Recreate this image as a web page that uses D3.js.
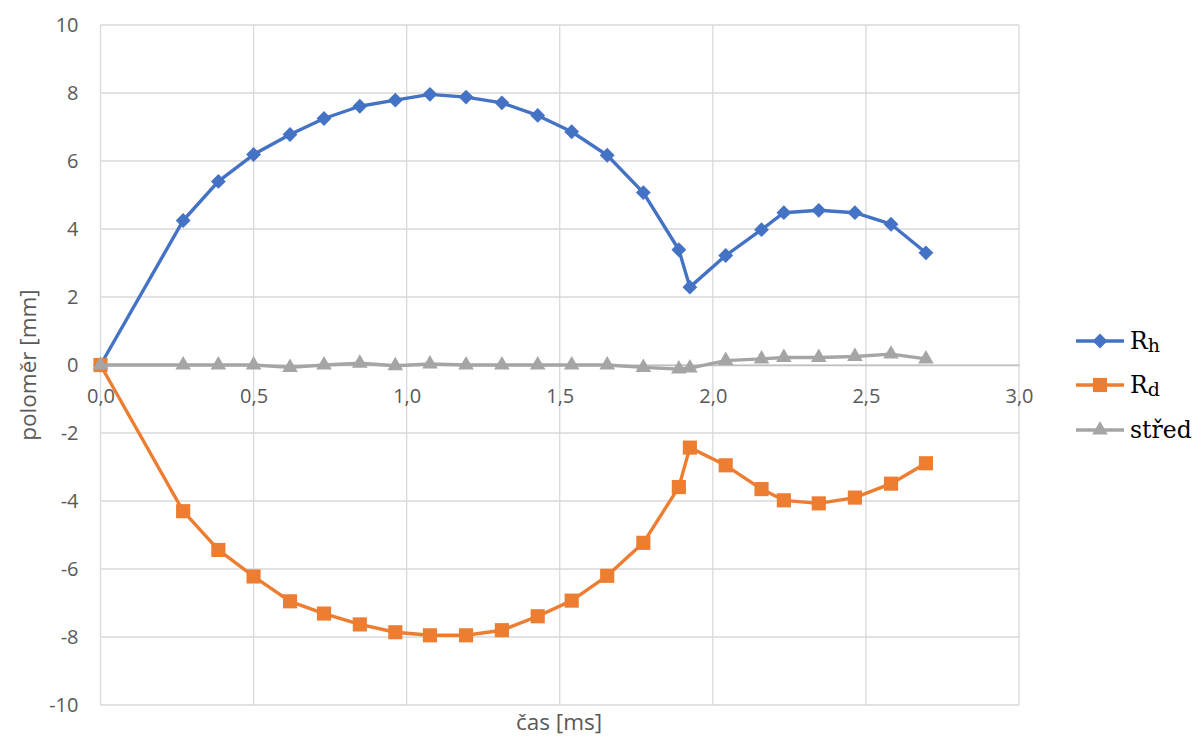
<!DOCTYPE html>
<html><head><meta charset="utf-8">
<script src="https://cdn.jsdelivr.net/npm/d3@7"></script>
<style>body{margin:0;background:#fff}svg{display:block}</style>
</head><body>
<svg id="c" width="1200" height="738"></svg>
<script>
const time = [0, 0.27, 0.385, 0.5, 0.619, 0.73, 0.847, 0.963, 1.076, 1.194, 1.311, 1.428, 1.539, 1.655, 1.773, 1.889, 1.925, 2.042, 2.159, 2.232, 2.346, 2.464, 2.582, 2.696];
const Rh = [0, 4.25, 5.40, 6.19, 6.78, 7.25, 7.61, 7.79, 7.96, 7.88, 7.71, 7.34, 6.86, 6.17, 5.07, 3.39, 2.29, 3.22, 3.98, 4.48, 4.55, 4.48, 4.14, 3.30];
const Rd = [0, -4.30, -5.44, -6.22, -6.95, -7.31, -7.63, -7.86, -7.95, -7.95, -7.80, -7.39, -6.93, -6.20, -5.23, -3.59, -2.43, -2.95, -3.65, -3.98, -4.07, -3.90, -3.49, -2.89];
const stred = [0, 0, 0, 0, -0.07, 0, 0.05, -0.02, 0.03, 0, 0, 0, 0, 0, -0.07, -0.12, -0.09, 0.13, 0.18, 0.22, 0.22, 0.25, 0.32, 0.18];
const xTicks = [0, 0.5, 1.0, 1.5, 2.0, 2.5, 3.0];
const yTicks = [-10, -8, -6, -4, -2, 0, 2, 4, 6, 8, 10];
const seriesNames = ["Rh", "Rd", "střed"];
const seriesColors = ["#4472C4", "#ED7D31", "#A5A5A5"];

const svg = d3.select("#c");
const L = 100.5, R = 1019, T = 25, B = 705;
const x = d3.scaleLinear().domain([0, 3]).range([L, R]);
const y = d3.scaleLinear().domain([-10, 10]).range([B, T]);
const fmt = d => d.toFixed(1).replace(".", ",");

const markers = [
  { sym: d3.symbolSquare, size: 110, rot: 45 },
  { sym: d3.symbolSquare, size: 200, rot: 0 },
  { sym: d3.symbolTriangle, size: 105, rot: 0 }
];

svg.append("g").selectAll("line").data(yTicks).join("line")
  .attr("x1", L).attr("x2", R).attr("y1", d => y(d)).attr("y2", d => y(d))
  .attr("stroke", "#d9d9d9").attr("stroke-width", 1.3);
svg.append("g").selectAll("line").data(xTicks).join("line")
  .attr("y1", T).attr("y2", B).attr("x1", d => x(d)).attr("x2", d => x(d))
  .attr("stroke", "#d9d9d9").attr("stroke-width", 1.3);

const font = "'Open Sans', 'Liberation Sans', sans-serif";
svg.append("g").attr("transform", `translate(${L},0)`)
  .call(d3.axisLeft(y).tickValues(yTicks).tickSize(0).tickPadding(22).tickFormat(d => String(d)))
  .call(g => g.select(".domain").remove())
  .selectAll("text").attr("font-family", font).attr("font-size", 20).attr("fill", "#595959");

svg.append("g").attr("transform", `translate(0,${y(0)})`)
  .call(d3.axisBottom(x).tickValues(xTicks).tickSize(0).tickPadding(24).tickFormat(fmt))
  .call(g => g.select(".domain").attr("stroke", "#bfbfbf").attr("stroke-width", 1.3))
  .selectAll("text").attr("font-family", font).attr("font-size", 20).attr("fill", "#595959");

svg.append("text").attr("x", 559).attr("y", 730).attr("text-anchor", "middle")
  .attr("font-family", font).attr("font-size", 22.5).attr("fill", "#595959").text("čas [ms]");
svg.append("text").attr("transform", `translate(36,${y(0)}) rotate(-90)`).attr("text-anchor", "middle")
  .attr("font-family", font).attr("font-size", 22.5).attr("fill", "#595959").text("poloměr [mm]");

const data = [Rh, Rd, stred];
const line = d3.line().x(d => x(d[0])).y(d => y(d[1]));
data.forEach((vals, i) => {
  const pts = time.map((t, j) => [t, vals[j]]);
  const m = markers[i];
  const g = svg.append("g");
  g.append("path").attr("d", line(pts)).attr("fill", "none")
    .attr("stroke", seriesColors[i]).attr("stroke-width", 3.4).attr("stroke-linejoin", "round");
  g.selectAll("path.m").data(pts).join("path").attr("class", "m")
    .attr("transform", d => `translate(${x(d[0])},${y(d[1])}) rotate(${m.rot})`)
    .attr("d", d3.symbol(m.sym, m.size))
    .attr("fill", seriesColors[i]);
});

const lf = "'DejaVu Serif', 'Liberation Serif', serif";
const legY = [341, 385, 430];
seriesNames.forEach((n, i) => {
  const m = markers[i];
  const g = svg.append("g").attr("transform", `translate(1076,${legY[i]})`);
  g.append("line").attr("x1", 0).attr("x2", 48).attr("stroke", seriesColors[i]).attr("stroke-width", 3.4);
  g.append("path").attr("transform", `translate(24,0) rotate(${m.rot})`)
    .attr("d", d3.symbol(m.sym, m.size)).attr("fill", seriesColors[i]);
  const t = g.append("text").attr("x", 54).attr("y", 8).attr("font-family", lf)
    .attr("font-size", 23.5).attr("fill", "#000");
  if (i < 2) {
    t.append("tspan").text("R");
    t.append("tspan").attr("font-size", 19).attr("dy", 3).text(n.slice(1));
  } else {
    t.text(n);
  }
});
</script>
</body></html>
